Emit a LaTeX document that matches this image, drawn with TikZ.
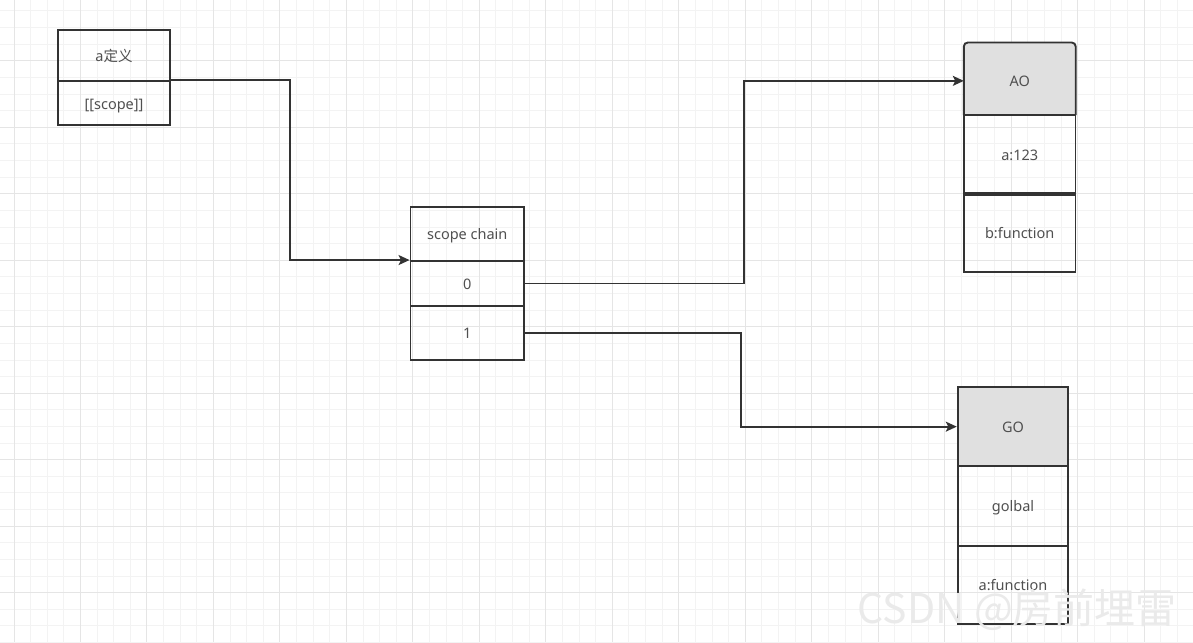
\documentclass[tikz,border=0pt]{standalone}
\usepackage{fontspec}
\setmainfont{Noto Sans}
\newfontfamily\cjk{Noto Sans CJK SC}
\usetikzlibrary{arrows.meta}
\definecolor{boxc}{RGB}{51,51,51}
\definecolor{txtc}{RGB}{80,80,80}
\definecolor{hdr}{RGB}{224,224,224}
\definecolor{gmin}{RGB}{243,243,243}
\definecolor{gmaj}{RGB}{229,229,229}
\definecolor{wm}{RGB}{234,234,234}
\begin{document}
\begin{tikzpicture}[x=1pt,y=-1pt,
  txt/.style={inner sep=0pt, text=txtc, font=\fontsize{14.5}{17}\selectfont, text height=13pt, text depth=1pt},
  cell/.style={txt, draw=boxc, line width=1.9pt},
  boxline/.style={draw=boxc, line width=1.9pt},
  conn/.style={draw=boxc, line width=1.7pt, -{Stealth[length=11pt,width=10pt,inset=2.5pt]}}]
% background and bounds
\fill[white] (0,0) rectangle (1193,642);
\useasboundingbox (0,0) rectangle (1193,642);
% grid
\foreach \i in {0,...,71}{
  \pgfmathsetmacro\gx{14+16.62*\i}
  \pgfmathtruncatemacro\gm{mod(\i,4)}
  \ifnum\gm=0\relax\else\draw[gmin,line width=1pt] (\gx,0) -- (\gx,642);\fi}
\foreach \j in {0,...,38}{
  \pgfmathsetmacro\gy{11+16.62*\j}
  \pgfmathtruncatemacro\gm{mod(\j,4)}
  \ifnum\gm=3\relax\else\draw[gmin,line width=1pt] (0,\gy) -- (1193,\gy);\fi}
\foreach \i in {0,4,...,71}{
  \pgfmathsetmacro\gx{14+16.62*\i}
  \draw[gmaj,line width=1pt] (\gx,0) -- (\gx,642);}
\foreach \j in {3,7,...,38}{
  \pgfmathsetmacro\gy{11+16.62*\j}
  \draw[gmaj,line width=1pt] (0,\gy) -- (1193,\gy);}
% a definition box
\node[cell, minimum width=112pt, minimum height=51pt] (def1) at (114,55.5) {a{\cjk 定义}};
\node[cell, minimum width=112pt, minimum height=44pt] (def2) at (114,103) {[[scope]]};
% scope chain
\node[cell, minimum width=113.5pt, minimum height=54.3pt] (sch) at (467.25,233.85) {scope chain};
\node[cell, minimum width=113.5pt, minimum height=44.7pt] (sc0) at (467.25,283.35) {0};
\node[cell, minimum width=113.5pt, minimum height=54.3pt] (sc1) at (467.25,332.85) {1};
% AO
\node[minimum width=111.5pt, minimum height=72.3pt, inner sep=0pt] (ao) at (1019.75,78.85) {};
\fill[hdr, rounded corners=4pt] (ao.south west) rectangle (ao.north east);
\fill[hdr] (ao.south west) rectangle (ao.east);
\draw[boxline, rounded corners=4pt] (ao.south west) -- (ao.north west) -- (ao.north east) -- (ao.south east);
\node[txt] (aot) at ([yshift=-2pt]ao.center) {AO};
\node[cell, minimum width=111.5pt, minimum height=78.3pt] (aoa) at (1019.75,154.15) {a:123};
\node[cell, minimum width=111.5pt, minimum height=79pt] (aob) at (1019.75,232.8) {b:function};
\draw[boxline, line width=3.5pt] (aoa.south west) -- (aoa.south east);
% GO
\node[cell, fill=hdr, minimum width=110.6pt, minimum height=78.7pt] (go) at (1013,426.65) {GO};
\node[cell, minimum width=110.6pt, minimum height=79.7pt] (goa) at (1013,505.85) {golbal};
\node[cell, minimum width=110.6pt, minimum height=78.3pt] (gob) at (1013,584.85) {a:function};
% connectors
\coordinate (k1) at (290,0);
\coordinate (k2) at (744,0);
\coordinate (k3) at (741,0);
\draw[conn] (def2.north east) -- (def2.north east -| k1) -- (k1 |- sc0.north west) -- (sc0.north west);
\draw[conn] (sc0.east) -- (sc0.east -| k2) -- (k2 |- aot.west) -- (ao.west |- aot.west);
\draw[conn] (sc1.east) -- (sc1.east -| k3) -- (k3 |- go.west) -- (go.west);
% watermark
\node[font=\cjk\fontsize{41}{41}\selectfont, text=wm, anchor=east, inner sep=0pt] (wmark) at (1177,610) {CSDN @房前埋雷};
\end{tikzpicture}
\end{document}
